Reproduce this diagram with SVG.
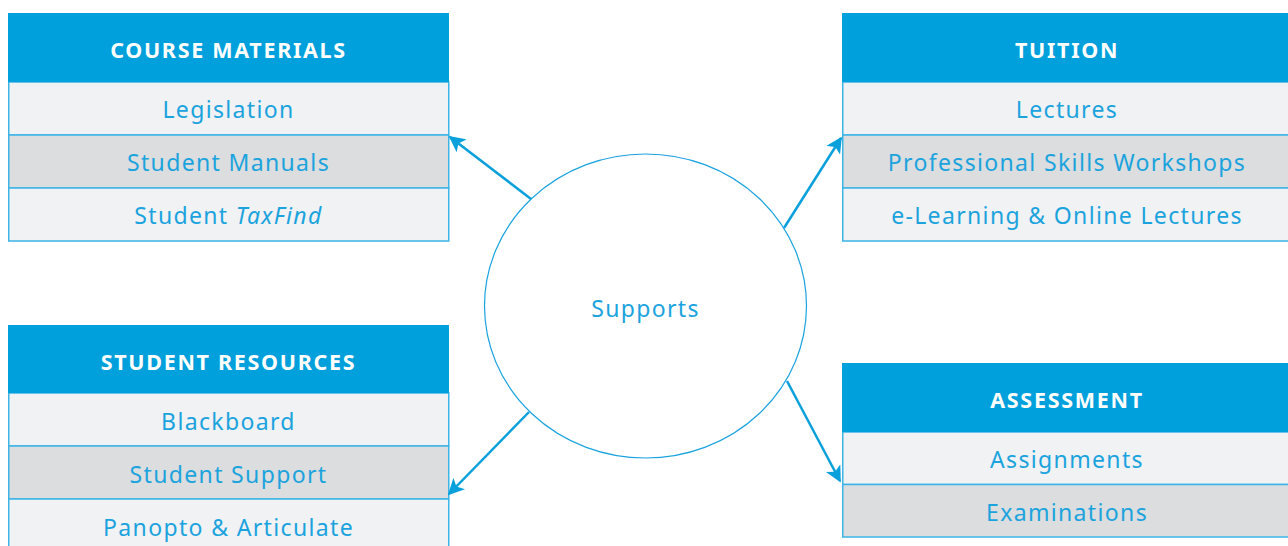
<svg xmlns="http://www.w3.org/2000/svg" width="1288" height="546" viewBox="0 0 1288 546">
<style>
.hd{fill:#00a0dc}
.r1{fill:#f1f2f4;stroke:#3cb4e6;stroke-width:1.5}
.r2{fill:#dcdddf;stroke:#3cb4e6;stroke-width:1.5}
.ht{font-family:"Noto Sans",sans-serif;font-weight:bold;font-size:21.5px;fill:#ffffff;text-anchor:middle;letter-spacing:1.7px}
.t{font-family:"Noto Sans",sans-serif;font-size:23px;fill:#1ba3de;text-anchor:middle;letter-spacing:1.35px}
.c{stroke:#0aa0dc;stroke-width:2.5;fill:none;marker-end:url(#ah)}
</style>
<defs>
<marker id="ah" viewBox="0 0 10 10" refX="9" refY="5" markerWidth="6.5" markerHeight="6.5" orient="auto" markerUnits="strokeWidth">
<path d="M0,0 L10,5 L0,10 L2.5,5 z" fill="#0aa0dc"/>
</marker>
</defs>
<rect width="1288" height="546" fill="#ffffff"/>
<g id="course-materials">
<rect class="r1" x="8.75" y="82" width="440" height="53"/>
<rect class="r2" x="8.75" y="135" width="440" height="53"/>
<rect class="r1" x="8.75" y="188" width="440" height="53"/>
<rect class="hd" x="8" y="13" width="441" height="69"/>
<text class="ht" x="228.5" y="58">COURSE MATERIALS</text>
<text class="t" x="228.5" y="118">Legislation</text>
<text class="t" x="228.5" y="171">Student Manuals</text>
<text class="t" x="228.5" y="224">Student <tspan font-style="italic">TaxFind</tspan></text>
</g>
<g id="tuition">
<rect class="r1" x="842.75" y="82" width="460" height="53"/>
<rect class="r2" x="842.75" y="135" width="460" height="53"/>
<rect class="r1" x="842.75" y="188" width="460" height="53"/>
<rect class="hd" x="842" y="13" width="460" height="69"/>
<text class="ht" x="1067" y="58">TUITION</text>
<text class="t" x="1067" y="118">Lectures</text>
<text class="t" x="1067" y="171">Professional Skills Workshops</text>
<text class="t" x="1067" y="224">e-Learning &amp; Online Lectures</text>
</g>
<g id="student-resources">
<rect class="r1" x="8.75" y="393" width="440" height="53"/>
<rect class="r2" x="8.75" y="446" width="440" height="53"/>
<rect class="r1" x="8.75" y="499" width="440" height="60"/>
<rect class="hd" x="8" y="325" width="441" height="68"/>
<text class="ht" x="228.5" y="370">STUDENT RESOURCES</text>
<text class="t" x="228.5" y="430">Blackboard</text>
<text class="t" x="228.5" y="483">Student Support</text>
<text class="t" x="228.5" y="536">Panopto &amp; Articulate</text>
</g>
<g id="assessment">
<rect class="r1" x="842.75" y="432" width="460" height="52.5"/>
<rect class="r2" x="842.75" y="484.5" width="460" height="52.5"/>
<rect class="hd" x="842" y="363" width="460" height="69"/>
<text class="ht" x="1067" y="408">ASSESSMENT</text>
<text class="t" x="1067" y="468">Assignments</text>
<text class="t" x="1067" y="521">Examinations</text>
</g>
<g id="supports">
<ellipse cx="645.5" cy="306" rx="161" ry="152" fill="#ffffff" stroke="#1aa3df" stroke-width="1.2"/>
<text class="t" x="645.5" y="317">Supports</text>
</g>
<g id="connectors">
<line class="c" x1="531" y1="199" x2="450" y2="137"/>
<line class="c" x1="784" y1="228" x2="841" y2="138"/>
<line class="c" x1="529" y1="412" x2="449" y2="494"/>
<line class="c" x1="787" y1="381" x2="840" y2="481"/>
</g>
</svg>
